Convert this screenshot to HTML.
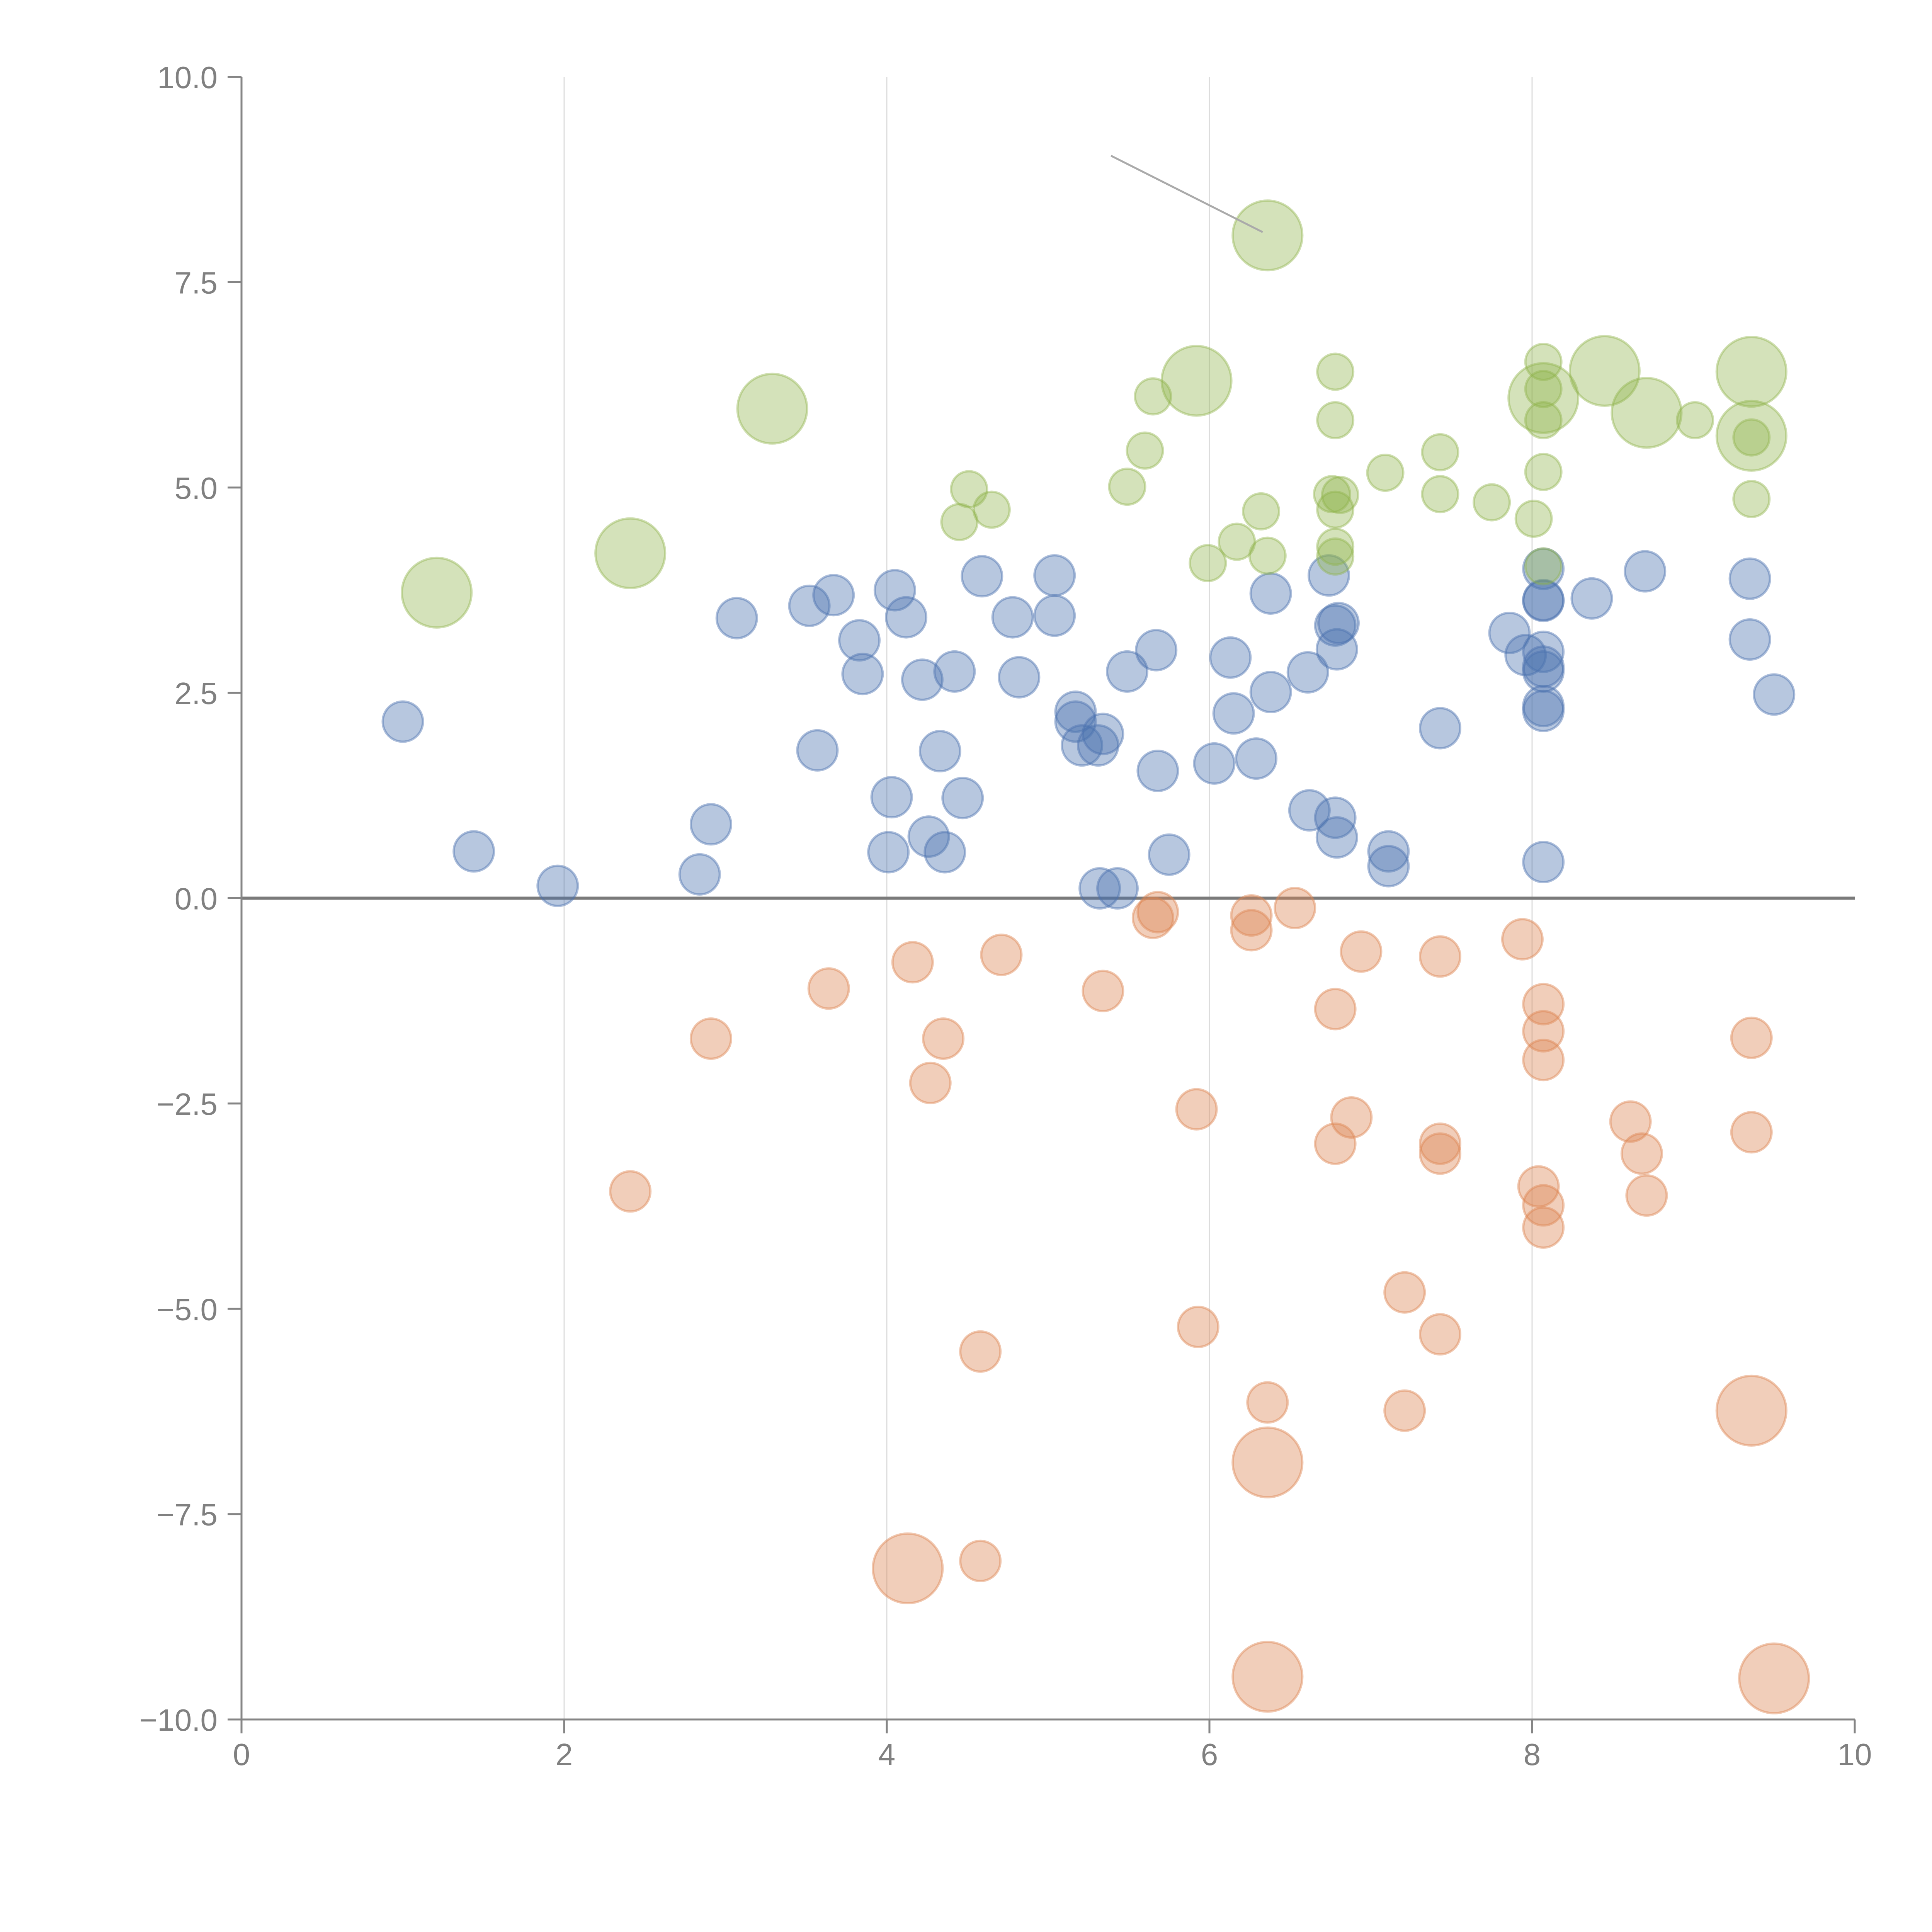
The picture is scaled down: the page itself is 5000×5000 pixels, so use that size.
<!DOCTYPE html>
<html><head><meta charset="utf-8">
<style>html,body{margin:0;padding:0;background:#fff}svg{display:block}</style>
</head><body>
<svg id="chart" width="5000" height="5000" xmlns="http://www.w3.org/2000/svg" font-family="Liberation Sans, sans-serif">
<rect width="5000" height="5000" fill="#fff"/>
<g id="grid"></g>
<g id="marks"></g>
<g id="axes"></g>
</svg>
<script>
const xTicks=[0,2,4,6,8,10];
const xTickLabels=["0","2","4","6","8","10"];
const yTicks=[10,7.5,5,2.5,0,-2.5,-5,-7.5,-10];
const yTickLabels=["10.0","7.5","5.0","2.5","0.0","\u22122.5","\u22125.0","\u22127.5","\u221210.0"];
const xGrid=[2,4,6,8];

const blueX=[1.00,1.44,1.96,2.84,2.91,3.07,3.52,3.57,3.67,3.83,3.85,4.03,4.01,4.05,4.12,4.22,4.26,4.36,4.33,4.42,4.47,4.59,4.78,4.82,5.04,5.04,5.17,5.17,5.21,5.31,5.34,5.32,5.43,5.49,5.67,5.68,5.75,6.03,6.13,6.15,6.29,6.38,6.38,6.61,6.62,6.74,6.78,6.79,6.78,6.79,6.80,7.11,7.11,7.43,7.86,7.96,8.07,8.07,8.07,8.07,8.07,8.07,8.07,8.07,8.37,8.70,9.35,9.35,9.50,8.07];
const blueY=[2.15,0.57,0.15,0.29,0.90,3.41,3.56,1.80,3.69,3.14,2.73,1.23,0.56,3.75,3.42,2.66,0.75,0.56,1.79,2.76,1.22,3.92,3.42,2.69,3.93,3.44,2.27,2.15,1.86,1.86,2.00,0.12,0.12,2.76,3.02,1.55,0.53,1.64,2.93,2.25,1.70,3.71,2.51,2.75,1.07,3.93,3.32,3.03,0.98,0.74,3.35,0.57,0.39,2.07,3.23,2.96,4.01,3.62,3.00,2.76,2.34,2.28,0.44,3.63,3.65,3.98,3.89,3.15,2.48,2.82];
const blueS=[1,1,1,1,1,1,1,1,1,1,1,1,1,1,1,1,1,1,1,1,1,1,1,1,1,1,1,1,1,1,1,1,1,1,1,1,1,1,1,1,1,1,1,1,1,1,1,1,1,1,1,1,1,1,1,1,1,1,1,1,1,1,1,1,1,1,1,1,1,1];

const orangeX=[2.41,2.91,3.64,4.16,4.27,4.35,4.71,4.58,4.58,5.34,5.65,5.68,5.92,5.93,6.26,6.26,6.36,6.53,6.78,6.78,6.88,6.94,7.21,7.21,7.43,7.43,7.43,7.43,7.94,8.07,8.07,8.07,8.04,8.07,8.07,8.61,8.68,8.71,9.36,9.36,4.13,6.36,6.36,9.36,9.50];
const orangeY=[-3.57,-1.71,-1.10,-0.78,-2.25,-1.71,-0.69,-5.52,-8.07,-1.13,-0.24,-0.17,-2.57,-5.22,-0.21,-0.39,-6.14,-0.12,-1.35,-2.99,-2.67,-0.65,-4.80,-6.24,-0.71,-2.99,-3.11,-5.31,-0.50,-1.29,-1.62,-1.97,-3.51,-3.74,-4.01,-2.72,-3.11,-3.62,-1.70,-2.85,-8.16,-6.87,-9.48,-6.24,-9.50];
const orangeS=[1,1,1,1,1,1,1,1,1,1,1,1,1,1,1,1,1,1,1,1,1,1,1,1,1,1,1,1,1,1,1,1,1,1,1,1,1,1,1,1,3,3,3,3,3];

const greenX=[4.45,4.51,4.65,5.49,5.60,5.65,5.99,6.17,6.32,6.36,6.78,6.78,6.76,6.78,6.81,6.78,6.78,7.09,7.43,7.43,7.75,8.01,8.07,8.07,8.07,8.07,9.01,9.36,9.36,8.07,1.21,2.41,3.29,5.92,6.36,8.07,8.45,8.71,9.36,9.36];
const greenY=[4.58,4.98,4.73,5.01,5.45,6.11,4.08,4.34,4.71,4.17,6.41,5.82,4.92,4.73,4.91,4.28,4.16,5.18,5.43,4.92,4.82,4.62,6.53,6.20,5.82,5.19,5.82,5.61,4.86,4.04,3.72,4.20,5.96,6.30,8.07,6.09,6.42,5.91,6.41,5.63];
const greenS=[0.8,0.8,0.8,0.8,0.8,0.8,0.8,0.8,0.8,0.8,0.8,0.8,0.8,0.8,0.8,0.8,0.8,0.8,0.8,0.8,0.8,0.8,0.8,0.8,0.8,0.8,0.8,0.8,0.8,0.8,3,3,3,3,3,3,3,3,3,3];

const annotX=[5.39,6.33];
const annotY=[9.04,8.11];

const NS="http://www.w3.org/2000/svg";
const X0=625,X1=4800,Y0=4450,Y1=199;
function sx(v){return X0+(v-0)/(10-0)*(X1-X0);}
function sy(v){return Y0-(v+10)/20*(Y0-Y1);}
function sr(s){return 52*Math.sqrt(s);}
function mk(tag,attrs,parent){const e=document.createElementNS(NS,tag);for(const k in attrs)e.setAttribute(k,attrs[k]);parent.appendChild(e);return e;}

const grid=document.getElementById('grid'),marks=document.getElementById('marks'),axes=document.getElementById('axes');
xGrid.forEach(v=>{
  const l=mk('line',{x1:sx(v),x2:sx(v),y1:Y1,y2:Y0,stroke:'#dcdcdc','stroke-width':3},grid);
  
  
});
const zl=mk('line',{x1:X0,x2:X1,y1:sy(0),y2:sy(0),stroke:'#7a7a7a','stroke-width':8},grid);



function series(xs,ys,ss,fill,stroke,name){
  const g=mk('g',{},marks);
  
  
  xs.forEach((x,i)=>{
    const c=mk('circle',{cx:sx(x),cy:sy(ys[i]),r:sr(ss[i]),fill:fill,stroke:stroke,'stroke-width':6},g);
    
    
  });
}
series(blueX,blueY,blueS,'rgba(76,114,176,0.4)','rgba(76,114,176,0.45)','blue');
series(orangeX,orangeY,orangeS,'rgba(221,132,82,0.4)','rgba(221,132,82,0.45)','orange');
series(greenX,greenY,greenS,'rgba(143,178,74,0.38)','rgba(143,178,74,0.42)','green');

const an=mk('line',{x1:sx(annotX[0]),y1:sy(annotY[0]),x2:sx(annotX[1]),y2:sy(annotY[1]),stroke:'#aaaaaa','stroke-width':5},marks);



const ya=mk('line',{x1:X0,x2:X0,y1:Y1,y2:Y0,stroke:'#858585','stroke-width':5},axes);


const xa=mk('line',{x1:X0,x2:X1,y1:Y0,y2:Y0,stroke:'#858585','stroke-width':5},axes);


yTicks.forEach((v,i)=>{
  const t=mk('line',{x1:X0-36,x2:X0,y1:sy(v),y2:sy(v),stroke:'#858585','stroke-width':5},axes);
  
  
  const tx=mk('text',{x:X0-62,y:sy(v)+29,'text-anchor':'end','font-size':80,fill:'#808080'},axes);
  tx.textContent=yTickLabels[i];
  
  
});
xTicks.forEach((v,i)=>{
  const t=mk('line',{x1:sx(v),x2:sx(v),y1:Y0,y2:Y0+36,stroke:'#858585','stroke-width':5},axes);
  
  
  const tx=mk('text',{x:sx(v),y:4568,'text-anchor':'middle','font-size':80,fill:'#808080'},axes);
  tx.textContent=xTickLabels[i];
  
  
});
</script>
</body></html>
